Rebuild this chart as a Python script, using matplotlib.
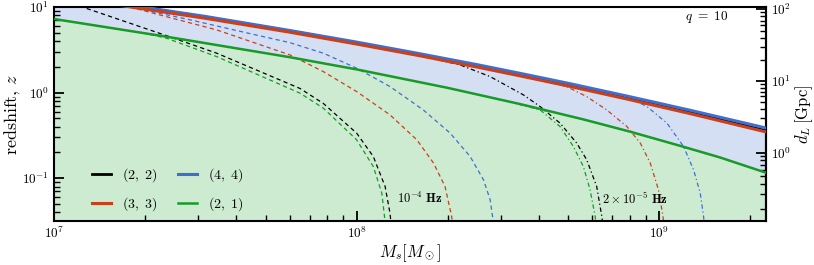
import numpy as np
import matplotlib
matplotlib.use("Agg")
import matplotlib.pyplot as plt

plt.rcParams['mathtext.fontset'] = 'cm'
plt.rcParams['font.family'] = 'serif'
plt.rcParams['font.serif'] = ['cmr10', 'DejaVu Serif']
plt.rcParams['axes.formatter.use_mathtext'] = True
plt.rcParams['axes.unicode_minus'] = False

# horizon curves, log10(M_s/M_sun) vs log10(z)
logM_21 = [7.0, 7.372, 7.78, 8.0, 8.3, 8.54, 8.75, 8.904, 9.069, 9.2, 9.36]
logz_21 = [0.86, 0.653, 0.413, 0.271, 0.056, -0.134, -0.314, -0.457, -0.622, -0.757, -0.945]

logM_33 = [7.0, 7.25, 7.5, 7.78, 8.0, 8.2, 8.4, 8.54, 8.7, 8.9, 9.1, 9.36]
logz_33 = [1.125, 1.002, 0.868, 0.705, 0.567, 0.436, 0.297, 0.195, 0.076, -0.081, -0.244, -0.466]

logM_44 = [7.0, 7.25, 7.5, 7.78, 8.0, 8.2, 8.4, 8.54, 8.7, 8.9, 9.1, 9.36]
logz_44 = [1.145, 1.022, 0.89, 0.725, 0.59, 0.46, 0.325, 0.225, 0.108, -0.046, -0.205, -0.42]

logM_22 = [7.0, 7.25, 7.5, 7.78, 8.0, 8.2, 8.4, 8.54, 8.7, 8.9, 9.1, 9.36]
logz_22 = [1.14, 1.017, 0.883, 0.72, 0.582, 0.451, 0.312, 0.21, 0.091, -0.066, -0.229, -0.451]

# with a 1e-4 Hz low-frequency cut
cut4_logM_22 = [7.0, 7.097, 7.372, 7.538, 7.813, 7.890, 8.000, 8.055, 8.094, 8.110, 8.116]
cut4_logz_22 = [1.11, 0.996, 0.665, 0.460, 0.048, -0.127, -0.474, -0.747, -1.097, -1.407, -1.6]
cut4_logM_21 = [7.0, 7.3, 7.372, 7.538, 7.813, 7.890, 8.000, 8.055, 8.083, 8.092, 8.095]
cut4_logz_21 = [0.86, 0.693, 0.635, 0.420, -0.007, -0.182, -0.552, -0.864, -1.174, -1.45, -1.6]
cut4_logM_33 = [7.251, 7.350, 7.538, 7.780, 7.890, 8.000, 8.110, 8.199, 8.254, 8.292, 8.314, 8.318]
cut4_logz_33 = [1.0, 0.907, 0.732, 0.440, 0.245, 0.012, -0.260, -0.552, -0.824, -1.097, -1.45, -1.6]
cut4_logM_44 = [7.2, 7.45, 7.638, 7.780, 7.890, 8.000, 8.110, 8.220, 8.309, 8.375, 8.419, 8.441, 8.449, 8.452]
cut4_logz_44 = [1.04, 0.85, 0.697, 0.583, 0.460, 0.285, 0.071, -0.202, -0.474, -0.747, -1.019, -1.252, -1.45, -1.6]

# with a 2e-5 Hz low-frequency cut
cut5_logM_22 = [8.2, 8.342, 8.441, 8.551, 8.606, 8.672, 8.727, 8.760, 8.793, 8.810, 8.815]
cut5_logz_22 = [0.44, 0.323, 0.187, -0.027, -0.163, -0.357, -0.590, -0.785, -1.097, -1.45, -1.6]
cut5_logM_21 = [8.5, 8.606, 8.672, 8.716, 8.749, 8.771, 8.788, 8.792]
cut5_logz_21 = [-0.103, -0.202, -0.397, -0.630, -0.864, -1.135, -1.447, -1.6]
cut5_logM_33 = [8.6, 8.694, 8.760, 8.826, 8.893, 8.937, 8.970, 8.997, 9.012, 9.016]
cut5_logz_33 = [0.15, 0.070, -0.047, -0.202, -0.397, -0.590, -0.824, -1.135, -1.447, -1.6]
cut5_logM_44 = [8.8, 8.893, 8.959, 9.025, 9.080, 9.113, 9.135, 9.146, 9.150]
cut5_logz_44 = [0.03, -0.047, -0.163, -0.357, -0.630, -0.902, -1.174, -1.447, -1.6]

dL_ticks = [1, 10, 100]

c_black = 'black'
c_red = '#c9401a'
c_blue = '#3e6fd0'
c_green = '#179a26'


def p(v):
    return 10 ** np.asarray(v)


# luminosity distance for flat LCDM, for the right axis
H0, Om = 67.7, 0.31
zg = np.linspace(0, 40, 40001)
invE = 1 / np.sqrt(Om * (1 + zg) ** 3 + 1 - Om)
dc = np.concatenate([[0], np.cumsum(0.5 * (invE[1:] + invE[:-1]) * np.diff(zg))])
dL = (1 + zg) * dc * 299792.458 / H0 / 1000.0


def z2d(z):
    return np.interp(np.clip(z, 1e-6, None), zg, dL)


def d2z(d):
    return np.interp(np.clip(d, 1e-9, None), dL, zg)


fig = plt.figure(figsize=(8.14, 2.65), dpi=100)
ax = fig.add_axes([0.0663, 0.166, 0.8747, 0.8076])

# filled regions under (4,4) and (2,1)
Mf = np.logspace(7, 9.36, 400)
ax.fill_between(Mf, 1e-3, p(np.interp(np.log10(Mf), logM_44, logz_44)), color='#d5dff4', lw=0, zorder=0)
ax.fill_between(Mf, 1e-3, p(np.interp(np.log10(Mf), logM_21, logz_21)), color='#cdebd1', lw=0, zorder=0)

dash = (0, (3.4, 2.6))
dashdot = (0, (3.5, 2.2, 1.0, 2.2))
for M, z, c in [(cut4_logM_22, cut4_logz_22, c_black), (cut4_logM_33, cut4_logz_33, c_red),
                (cut4_logM_44, cut4_logz_44, c_blue), (cut4_logM_21, cut4_logz_21, c_green)]:
    ax.plot(p(M), p(z), color=c, lw=0.9, ls=dash, zorder=2)
for M, z, c in [(cut5_logM_22, cut5_logz_22, c_black), (cut5_logM_33, cut5_logz_33, c_red),
                (cut5_logM_44, cut5_logz_44, c_blue), (cut5_logM_21, cut5_logz_21, c_green)]:
    ax.plot(p(M), p(z), color=c, lw=0.9, ls=dashdot, zorder=2)

ax.plot(p(logM_22), p(logz_22), color=c_black, lw=2.0, label=r'$\mathbf{(2,\ 2)}$', zorder=3)
ax.plot(p(logM_33), p(logz_33), color=c_red, lw=2.2, label=r'$\mathbf{(3,\ 3)}$', zorder=4)
ax.plot(p(logM_44), p(logz_44), color=c_blue, lw=2.2, label=r'$\mathbf{(4,\ 4)}$', zorder=3.5)
ax.plot(p(logM_21), p(logz_21), color=c_green, lw=1.8, label=r'$\mathbf{(2,\ 1)}$', zorder=3)

ax.set_xscale('log')
ax.set_yscale('log')
ax.set_xlim(1e7, 2.25e9)
ax.set_ylim(10 ** -1.5, 10)

ax.text(1.36e8, 10 ** -1.23, r'$\mathbf{10^{-4}\ Hz}$', fontsize=9, ha='left', va='center')
ax.text(6.45e8, 10 ** -1.24, r'$\mathbf{2\times10^{-5}\ Hz}$', fontsize=9, ha='left', va='center')
ax.text(0.947, 0.953, r'$q\ \mathbf{=\ 10}$', transform=ax.transAxes, fontsize=9.5, ha='right', va='center')

ax.set_xlabel(r'$M_s[M_\odot]$', fontsize=12, labelpad=1)
ax.set_ylabel(r'redshift, $z$', fontsize=13, labelpad=0)

for s in ax.spines.values():
    s.set_linewidth(1.5)
ax.tick_params(which='both', direction='in', top=False, right=False, labelsize=9.5)
ax.tick_params(which='major', length=7, width=1.3)
ax.tick_params(which='minor', length=4, width=1.0)

sec = ax.secondary_yaxis('right', functions=(z2d, d2z))
sec.set_yticks(dL_ticks)
sec.spines['right'].set_linewidth(1.5)
sec.tick_params(which='both', direction='in', labelsize=9.5)
sec.tick_params(which='major', length=7, width=1.3)
sec.tick_params(which='minor', length=4, width=1.0)
sec.set_ylabel(r'$d_L\,[\mathrm{Gpc}]$', fontsize=12, labelpad=2)

leg = ax.legend(ncol=2, loc='lower left', bbox_to_anchor=(0.036, -0.022), frameon=False,
                fontsize=10, handlelength=1.35, columnspacing=1.5, labelspacing=0.8,
                handletextpad=0.8)

fig.savefig('out.png', dpi=100)
